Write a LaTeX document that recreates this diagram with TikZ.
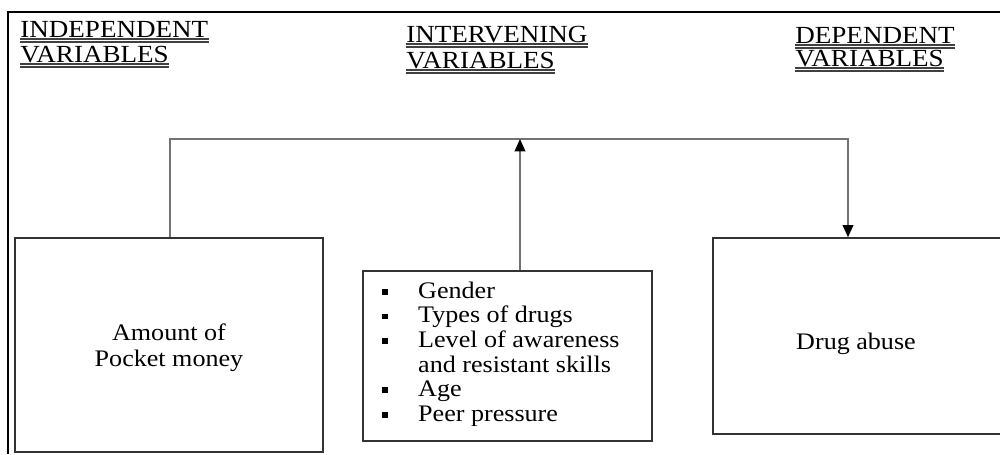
\documentclass[tikz,border=0pt]{standalone}
\usepackage{fontspec}
\setmainfont{Liberation Serif}[FakeStretch=1.1]
\usetikzlibrary{arrows.meta}
\newcommand\lbul{\makebox[20.4pt][l]{\rule[1.9pt]{3.4pt}{3.4pt}}}
\newcommand\dblul[1]{%
  \draw[ul] ([yshift=-1.1pt]#1.base west) -- ([yshift=-1.1pt]#1.base east);
  \draw[ul] ([yshift=-2.8pt]#1.base west) -- ([yshift=-2.8pt]#1.base east);}
\begin{document}
\begin{tikzpicture}[x=0.02cm,y=-0.02cm,
  frame/.style={draw=black,line width=1.2pt},
  box/.style={draw=black!80,line width=0.8pt,inner sep=0pt},
  conn/.style={draw=black!55,line width=1.1pt},
  tip/.style={-{Triangle[width=6pt,length=7pt,color=black]}},
  hd/.style={anchor=base west,inner sep=0pt,font=\fontsize{14pt}{14.7pt}\selectfont},
  txt/.style={inner sep=0pt,font=\fontsize{13.5pt}{14.7pt}\selectfont},
  ul/.style={draw=black!75,line width=0.7pt}]
\useasboundingbox (0,0) rectangle (1000,454);
% outer frame
\draw[frame] (1000,12) -- (8,12) -- (8,454);
% headers
\node[hd] (ha1) at (20,37) {INDEPENDENT};
\node[hd] (ha2) at (20,62) {VARIABLES};
\node[hd] (hb1) at (406,42) {INTERVENING};
\node[hd] (hb2) at (406,68) {VARIABLES};
\node[hd] (hc1) at (795,43) {DEPENDENT};
\node[hd] (hc2) at (795,66) {VARIABLES};
\dblul{ha1}\dblul{ha2}\dblul{hb1}\dblul{hb2}\dblul{hc1}\dblul{hc2}
% boxes
\node[box,minimum width=6.16cm,minimum height=4.28cm] (indep) at (169,345) {};
\node[box,minimum width=5.78cm,minimum height=3.4cm] (interv) at (507.5,356) {};
\node[box,minimum width=5.78cm,minimum height=3.92cm] (dep) at (857.5,336) {};
% box texts
\node[txt,align=center] (t1) at (169,348) {Amount of\\Pocket money};
\node[txt] (t3) at (856,344) {Drug abuse};
\node[txt,align=left,anchor=west,font=\fontsize{13.5pt}{14pt}\selectfont] (list) at (382,354)
  {\lbul Gender\\ \lbul Types of drugs\\ \lbul Level of awareness\\
   \makebox[20.4pt]{}and resistant skills\\ \lbul Age\\ \lbul Peer pressure};
% connectors
\coordinate (c1) at (170,139);
\coordinate (c2) at (848,139);
\coordinate (c3) at (520,139);
\draw[conn,tip] (indep.north -| c1) -- (c1) -- (c2) -- (dep.north -| c2);
\draw[conn,tip] (interv.north -| c3) -- (c3);
\end{tikzpicture}
\end{document}
